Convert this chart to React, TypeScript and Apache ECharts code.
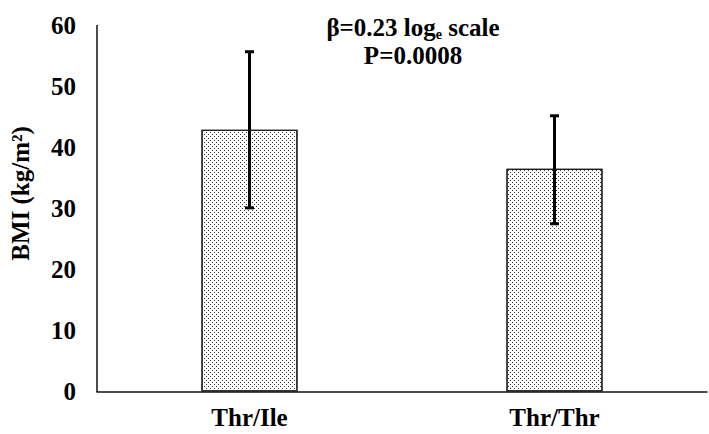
import React, { useEffect, useRef } from "react";
import * as echarts from "echarts";

const categories = ["Thr/Ile", "Thr/Thr"];
const meanBMI = [42.9, 36.5];
const errLow = [30.1, 27.5];
const errHigh = [55.7, 45.2];
const yMin = 0;
const yMax = 60;
const yInterval = 10;
const annotationLine1 = ["β=0.23 log", "e", " scale"];
const annotationLine2 = "P=0.0008";
const yAxisName = "BMI (kg/m²)";

const FONT = "'Liberation Serif', 'Times New Roman', serif";

export default function App() {
  const ref = useRef<HTMLDivElement>(null);
  useEffect(() => {
    if (!ref.current) return;
    const chart = echarts.init(ref.current, undefined, { renderer: "svg" });
    chart.setOption({
      animation: false,
      backgroundColor: "#fff",
      grid: { left: 91, right: 2, top: 25.5, bottom: 42.5, containLabel: false },
      xAxis: {
        type: "category",
        data: categories,
        axisLine: { lineStyle: { color: "#111", width: 1.5 } },
        axisTick: { show: false },
        axisLabel: {
          color: "#000",
          fontFamily: FONT,
          fontWeight: "bold",
          fontSize: 25,
          margin: 13,
        },
      },
      yAxis: {
        type: "value",
        min: yMin,
        max: yMax,
        interval: yInterval,
        name: yAxisName,
        nameLocation: "middle",
        nameGap: 64,
        nameTextStyle: {
          color: "#000",
          fontFamily: FONT,
          fontWeight: "bold",
          fontSize: 25,
          padding: [0, 0, 0, 30],
        },
        splitLine: { show: false },
        axisTick: { show: false },
        axisLine: { show: true, lineStyle: { color: "#111", width: 1.5 } },
        axisLabel: {
          color: "#000",
          fontFamily: FONT,
          fontWeight: "bold",
          fontSize: 25,
          margin: 21,
        },
      },
      series: [
        {
          type: "bar",
          data: meanBMI,
          barWidth: "31.5%",
          itemStyle: {
            color: "#fff",
            borderColor: "#222",
            borderWidth: 1.2,
            decal: {
              symbol: "rect",
              symbolSize: 1,
              color: "#333",
              dashArrayX: [
                [1, 3],
                [0, 2, 1, 1],
              ],
              dashArrayY: [1, 1],
            },
          },
          z: 2,
        },
        {
          type: "custom",
          data: categories.map((_, i) => [i, errLow[i], errHigh[i]]),
          encode: { x: 0, y: [1, 2] },
          z: 5,
          renderItem: (params: any, api: any) => {
            const x = api.value(0);
            const lo = api.coord([x, api.value(1)]);
            const hi = api.coord([x, api.value(2)]);
            const hw = 4.5;
            const st = { stroke: "#000", lineWidth: 3 };
            return {
              type: "group",
              children: [
                { type: "line", shape: { x1: lo[0], y1: lo[1], x2: hi[0], y2: hi[1] }, style: st },
                { type: "line", shape: { x1: lo[0] - hw, y1: lo[1], x2: lo[0] + hw, y2: lo[1] }, style: st },
                { type: "line", shape: { x1: hi[0] - hw, y1: hi[1], x2: hi[0] + hw, y2: hi[1] }, style: st },
              ],
            };
          },
        },
      ],
      graphic: [
        {
          type: "text",
          x: 413,
          y: 13,
          style: {
            text:
              "{a|" + annotationLine1[0] + "}{s|" + annotationLine1[1] + "}{a|" + annotationLine1[2] + "}\n{a|" + annotationLine2 + "}",
            align: "center",
            fill: "#000",
            rich: {
              a: { fontFamily: FONT, fontWeight: "bold", fontSize: 25, lineHeight: 28, fill: "#000" },
              s: {
                fontFamily: FONT,
                fontWeight: "bold",
                fontSize: 14,
                lineHeight: 14,
                verticalAlign: "bottom",
                fill: "#000",
              },
            },
          },
        },
      ],
    });
    return () => chart.dispose();
  }, []);
  return <div ref={ref} style={{ width: 709, height: 434, position: "absolute", left: 0, top: 0 }} />;
}
